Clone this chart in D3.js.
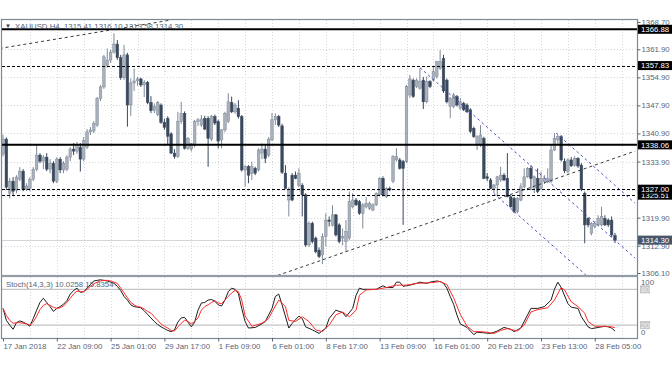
<!DOCTYPE html>
<html>
<head>
<meta charset="utf-8">
<script src="https://cdn.jsdelivr.net/npm/d3@7"></script>
<style>
    body { margin: 0; background: #fff; }
    svg { display: block; font-family: "Liberation Sans", Arial, sans-serif; }
</style>
</head>
<body>
<svg id="chart" width="672" height="372"></svg>
<script>
// H4 candles
const opens = [
    1335.8,1339.5,1326.0,1329.0,1326.8,1329.5,1331.5,1327.0,1327.2,1329.5,
    1332.0,1335.5,1334.0,1335.0,1332.0,1333.5,1329.0,1334.5,1331.8,1332.0,
    1335.0,1337.0,1336.5,1337.5,1334.5,1337.5,1341.3,1341.5,1343.0,1349.6,
    1352.5,1357.8,1359.2,1361.2,1363.2,1359.8,1354.8,1360.5,1348.0,1353.5,
    1354.0,1354.5,1353.0,1353.6,1348.6,1346.6,1345.6,1348.0,1343.7,1344.6,
    1340.8,1336.0,1335.2,1343.9,1345.9,1337.2,1337.0,1338.0,1343.9,1343.0,
    1344.6,1344.7,1339.5,1345.1,1343.9,1339.3,1341.8,1343.9,1348.6,1346.3,
    1347.2,1345.1,1331.8,1332.6,1330.9,1332.2,1331.8,1336.0,1337.0,1335.5,
    1339.3,1344.3,1345.1,1342.8,1331.0,1324.3,1330.5,1330.5,1328.0,1328.0,
    1325.6,1313.1,1318.5,1314.8,1311.8,1310.6,1315.2,1319.3,1318.0,1320.6,
    1318.1,1314.8,1313.9,1314.8,1322.6,1324.3,1323.9,1321.0,1322.6,1322.2,
    1321.8,1323.1,1325.6,1329.7,1325.1,1327.2,1328.9,1334.3,1334.3,1333.9,
    1333.9,1350.5,1354.2,1352.6,1352.2,1354.2,1348.8,1353.8,1354.2,1355.1,
    1357.1,1359.6,1354.2,1347.6,1347.6,1350.1,1347.2,1348.4,1348.0,1346.8,
    1342.2,1338.0,1338.0,1339.7,1330.1,1329.3,1327.2,1328.05,1329.3,1330.5,
    1329.7,1325.1,1324.7,1321.4,1324.3,1327.6,1330.1,1332.2,1327.2,1329.7,
    1327.2,1328.9,1328.9,1329.0,1336.8,1339.3,1340.1,1333.9,1331.4,1334.3,
    1333.0,1334.7,1333.0,1326.0,1319.7,1316.0,1317.7,1318.1,1318.1,1319.7,
    1319.3,1319.3,1315.41
];
const highs = [
    1340.6,1339.9,1329.8,1330.0,1330.5,1332.5,1332.0,1328.5,1330.0,1332.5,
    1338.0,1336.0,1335.5,1336.0,1334.5,1334.0,1335.0,1335.0,1334.0,1335.5,
    1337.5,1338.5,1338.8,1338.5,1340.0,1342.0,1342.5,1344.0,1350.0,1353.0,
    1360.5,1362.1,1361.8,1365.9,1364.2,1360.5,1363.0,1361.0,1354.6,1357.1,
    1355.0,1354.8,1354.2,1354.0,1350.2,1348.4,1349.0,1348.4,1344.6,1345.2,
    1341.2,1337.0,1346.3,1348.8,1346.4,1340.0,1338.6,1344.3,1344.7,1345.5,
    1345.3,1345.2,1345.5,1345.6,1344.3,1342.0,1346.3,1350.9,1350.1,1348.5,
    1349.2,1345.5,1333.0,1333.0,1333.9,1332.6,1337.2,1338.4,1338.0,1340.0,
    1346.0,1345.9,1345.5,1343.3,1333.0,1327.5,1331.0,1331.4,1332.2,1328.5,
    1326.0,1319.0,1318.9,1315.2,1312.5,1316.0,1321.0,1320.2,1323.0,1320.8,
    1318.5,1317.2,1319.3,1326.4,1326.0,1324.8,1324.3,1323.5,1325.1,1323.9,
    1323.5,1326.2,1330.0,1330.2,1327.5,1327.6,1335.5,1337.2,1334.8,1334.3,
    1353.0,1355.5,1354.6,1354.6,1357.1,1355.0,1355.1,1354.2,1357.6,1359.0,
    1361.7,1360.5,1354.6,1350.0,1351.0,1350.5,1349.7,1348.8,1348.4,1347.2,
    1342.6,1340.5,1343.0,1340.1,1331.0,1329.8,1328.3,1330.3,1332.6,1331.0,
    1336.0,1325.5,1325.1,1325.0,1328.5,1332.2,1332.5,1333.0,1330.4,1332.2,
    1331.4,1330.5,1332.2,1338.0,1341.0,1340.5,1340.5,1334.7,1334.7,1335.0,
    1335.2,1335.0,1333.5,1326.4,1320.0,1318.8,1319.0,1320.5,1322.6,1320.5,
    1319.7,1320.2,1316.10
];
const lows = [
    1335.2,1326.8,1324.7,1325.5,1326.0,1329.0,1326.5,1326.5,1326.5,1329.0,
    1331.5,1333.5,1332.0,1331.5,1331.0,1328.5,1328.5,1331.0,1331.0,1331.5,
    1334.0,1335.5,1335.8,1331.4,1334.0,1337.0,1340.5,1341.0,1342.5,1349.0,
    1352.0,1357.3,1358.5,1360.8,1359.3,1354.3,1354.3,1342.6,1345.3,1351.5,
    1352.8,1352.5,1350.0,1348.2,1346.0,1346.0,1345.2,1343.3,1341.8,1338.0,
    1335.8,1334.6,1334.8,1343.3,1336.9,1336.8,1336.4,1337.4,1342.8,1342.5,
    1341.7,1332.6,1339.0,1343.0,1337.2,1337.2,1341.2,1343.5,1346.0,1345.8,
    1344.6,1331.4,1327.6,1328.5,1329.3,1330.5,1331.4,1334.5,1333.5,1335.0,
    1339.0,1343.0,1342.5,1330.8,1327.0,1320.2,1324.0,1329.5,1327.5,1320.2,
    1312.6,1312.6,1313.5,1311.0,1309.8,1308.3,1312.7,1317.7,1317.7,1315.2,
    1313.5,1313.0,1311.4,1314.3,1322.2,1322.8,1320.6,1317.2,1322.2,1321.8,
    1321.5,1322.8,1325.2,1325.2,1324.8,1326.5,1328.5,1333.9,1331.9,1318.1,
    1333.5,1349.8,1349.8,1352.2,1351.8,1347.0,1348.4,1352.2,1353.8,1354.6,
    1356.8,1351.0,1348.4,1344.7,1347.2,1347.6,1346.8,1346.5,1346.0,1341.0,
    1339.8,1336.8,1337.5,1329.5,1329.0,1327.0,1326.0,1325.1,1328.8,1329.0,
    1325.0,1322.4,1321.0,1321.0,1324.0,1327.2,1329.8,1326.8,1326.0,1326.0,
    1326.8,1328.3,1328.5,1328.5,1336.5,1338.0,1333.9,1331.0,1331.0,1332.6,
    1332.6,1332.3,1326.5,1313.5,1317.5,1315.5,1317.2,1317.8,1317.7,1317.8,
    1317.6,1315.0,1313.58
];
const closes = [
    1339.5,1327.5,1329.0,1326.5,1330.0,1331.5,1327.0,1327.8,1329.5,1332.0,
    1335.5,1334.0,1335.0,1332.0,1333.5,1329.0,1334.5,1331.8,1333.5,1335.0,
    1337.0,1336.5,1338.0,1334.5,1339.2,1341.3,1341.8,1343.4,1349.6,1352.5,
    1360.0,1359.2,1361.2,1363.2,1359.8,1354.8,1360.5,1348.0,1353.5,1354.0,
    1354.5,1353.0,1353.6,1348.6,1346.6,1347.6,1348.6,1343.7,1342.4,1340.2,
    1336.0,1335.2,1343.9,1345.9,1337.2,1339.7,1338.4,1343.9,1344.3,1344.5,
    1342.0,1339.7,1345.1,1343.5,1339.0,1341.8,1345.9,1348.8,1346.3,1348.0,
    1345.1,1331.8,1332.6,1330.5,1332.6,1331.0,1336.8,1337.0,1334.7,1339.5,
    1344.3,1345.1,1343.0,1331.2,1327.2,1327.0,1324.3,1329.7,1331.0,1325.6,
    1313.1,1318.5,1313.9,1311.4,1310.2,1315.2,1319.3,1319.0,1320.6,1315.6,
    1313.9,1315.2,1316.4,1323.9,1324.3,1323.1,1321.0,1323.1,1323.5,1323.5,
    1323.1,1326.0,1329.7,1325.6,1327.2,1326.8,1335.1,1335.1,1332.2,1332.2,
    1352.6,1354.5,1350.1,1354.2,1353.8,1348.8,1353.8,1352.6,1356.3,1358.8,
    1358.8,1351.5,1348.8,1349.7,1350.5,1348.0,1348.8,1346.8,1346.3,1341.4,
    1340.1,1340.1,1340.5,1329.7,1329.7,1327.2,1328.05,1330.1,1330.5,1329.3,
    1325.1,1322.6,1321.4,1324.7,1327.6,1330.1,1332.2,1329.7,1330.1,1326.4,
    1329.7,1329.7,1329.7,1336.8,1339.7,1340.1,1334.3,1331.6,1334.3,1332.8,
    1334.7,1332.8,1327.0,1318.1,1318.1,1318.5,1318.5,1319.7,1320.2,1318.1,
    1318.1,1315.6,1314.30
];

// stochastic points [bar, value]
const stochMain = [
    [0,48],[1,28],[2,20],[3,13],[4,24],[5,27],[6,25],[7,22],[8,18],[9,31],[10,45],[11,58],[12,65],[13,58],
    [14,51],[15,43],[16,48],[17,51],[18,55],[19,61],[20,72],[21,78],[22,82],[23,75],[24,76],[25,82],[26,88],
    [27,94],[28,95],[29,96],[30,95],[31,94],[32,92],[33,90],[34,85],[35,78],[36,68],[37,62],[38,54],[39,51],
    [40,50],[41,49],[42,44],[43,38],[44,32],[45,26],[46,21],[47,17],[48,14],[49,11],[50,9],[51,12],[52,25],
    [53,32],[54,33],[55,25],[56,17],[57,25],[58,45],[59,57],[60,58],[61,62],[62,63],[63,60],[64,54],[65,52],
    [66,62],[67,76],[68,82],[69,80],[70,73],[71,48],[72,26],[73,15],[75,16],[77,22],[78,26],[80,48],[81,68],
    [82,72],[83,54],[85,15],[86,23],[88,35],[89,31],[90,17],[92,12],[94,6],[96,15],[97,31],[99,45],[101,41],
    [102,34],[104,48],[105,70],[106,82],[107,80],[109,80],[111,80],[113,86],[114,83],[116,83],[117,92],[118,92],
    [119,85],[121,87],[123,90],[124,92],[126,90],[127,92],[129,94],[130,93],[131,90],[132,82],[133,68],[134,55],
    [135,37],[136,22],[138,16],[140,4],[141,8],[143,7],[145,6],[147,10],[149,16],[151,13],[152,9],[154,15],
    [156,37],[157,48],[159,48],[161,51],[163,62],[164,80],[165,92],[166,83],[168,56],[169,50],[171,48],[172,34],
    [174,17],[175,14],[177,16],[179,18],[180,17],[181,15],[182,10.03]
];
const stochSignal = [
    [0,48],[1,36],[2,28],[3,23],[4,24],[5,24],[6,23],[7,22],[8,20],[9,25],[10,35],[11,46],[12,53],[13,56],
    [14,53],[15,50],[16,48],[17,49],[18,52],[19,58],[20,65],[21,72],[22,77],[23,76],[24,76],[25,80],[26,85],
    [27,89],[28,92],[29,94],[30,95],[31,95],[32,94],[33,92],[34,90],[35,82],[36,74],[37,66],[38,58],[39,54],
    [40,51],[41,50],[42,47],[43,43],[44,40],[45,34],[46,28],[47,22],[48,18],[49,15],[50,11],[51,10],[52,17],
    [53,23],[54,28],[55,26],[56,22],[57,26],[58,32],[59,45],[60,51],[61,54],[62,58],[63,61],[64,57],[65,56],
    [66,62],[67,68],[68,74],[69,78],[70,76],[71,62],[72,35],[74,18],[77,23],[79,31],[80,42],[82,62],[84,51],
    [85,28],[87,26],[89,34],[91,26],[93,12],[95,9],[97,20],[99,37],[101,42],[103,34],[105,45],[106,70],[108,79],
    [111,80],[114,83],[117,87],[120,87],[123,90],[127,91],[130,93],[132,88],[134,66],[136,38],[138,18],[140,9],
    [142,9],[144,8],[146,6],[148,11],[150,14],[153,10],[155,20],[157,42],[159,46],[162,49],[164,62],[166,83],
    [167,79],[169,59],[171,51],[173,40],[174,26],[176,18],[179,18],[181,17],[182,15.84]
];

const timeLabels = ["17 Jan 2018", "22 Jan 09:00", "25 Jan 01:00", "29 Jan 17:00", "1 Feb 09:00", "6 Feb 01:00",
    "8 Feb 17:00", "13 Feb 09:00", "16 Feb 01:00", "20 Feb 21:00", "23 Feb 13:00", "28 Feb 05:00"];
const timeTickBars = [0, 16, 32, 48, 64, 80, 96, 112, 128, 144, 160, 176];
const priceTicks = [1368.70, 1361.90, 1354.90, 1347.90, 1340.90, 1333.90, 1326.90, 1319.90, 1312.90, 1306.10];

const levelsSolid = [1366.88, 1338.06];
const levelsDashed = [1325.51, 1327.00, 1357.83];
const lastPrice = 1314.30;

// trend lines [[bar, price], [bar, price]]
const trendBlack = [
    [[-1, 1362.1], [50, 1369.2]],
    [[80, 1305.0], [188, 1336.5]]
];
const trendBlue = [
    [[124, 1357.3], [188, 1309.8]],
    [[164.5, 1341.0], [188, 1323.5]],
    [[146, 1325.9], [188, 1294.7]]
];

const header = "XAUUSD,H4  1315.41 1316.10 1313.58 1314.30";
const stochHeader = "Stoch(14,3,3) 10.0258 15.8354";

// ---- layout
const frame = { left: 2, right: 637, top: 20, bottom: 275 };
const sub = { top: 277, bottom: 338 };
const textColor = "#56657a";
const fs = "7.8px";

const svg = d3.select("#chart");

const x = d3.scaleLinear().domain([0, 182]).range([3, 3 + 182 * 3.3625]);
const y = d3.scaleLinear().domain([1306.1, 1368.7]).range([273, 22]);
const ys = d3.scaleLinear().domain([0, 100]).range([337, 277.4]);

const defs = svg.append("defs");
defs.append("clipPath").attr("id", "clipMain")
    .append("rect")
    .attr("x", frame.left).attr("y", frame.top)
    .attr("width", frame.right - frame.left).attr("height", frame.bottom - frame.top);
defs.append("clipPath").attr("id", "clipSub")
    .append("rect")
    .attr("x", frame.left).attr("y", sub.top)
    .attr("width", frame.right - frame.left).attr("height", sub.bottom - sub.top);

const bars = opens.map((o, i) => ({ i, o, h: highs[i], l: lows[i], c: closes[i] }));

// grid
const gridBars = d3.range(8, 189, 8);
const grid = svg.append("g").attr("stroke", "#d4d7db").attr("stroke-dasharray", "1,2");
grid.selectAll("line.v").data(gridBars).join("line")
    .attr("x1", d => Math.round(x(d)) + 0.5).attr("x2", d => Math.round(x(d)) + 0.5)
    .attr("y1", frame.top).attr("y2", frame.bottom);
grid.selectAll("line.vs").data(gridBars).join("line")
    .attr("x1", d => Math.round(x(d)) + 0.5).attr("x2", d => Math.round(x(d)) + 0.5)
    .attr("y1", sub.top).attr("y2", sub.bottom);
grid.selectAll("line.h").data(priceTicks.slice(1, -1)).join("line")
    .attr("x1", frame.left).attr("x2", frame.right)
    .attr("y1", d => Math.round(y(d)) + 0.5).attr("y2", d => Math.round(y(d)) + 0.5);

// main pane
const main = svg.append("g").attr("clip-path", "url(#clipMain)");

main.append("line")
    .attr("x1", frame.left).attr("x2", frame.right)
    .attr("y1", Math.round(y(lastPrice)) + 0.5).attr("y2", Math.round(y(lastPrice)) + 0.5)
    .attr("stroke", "#d3d7dc");

const bullFill = "#a9b1bc", bullEdge = "#7f8996", bearFill = "#3a495d";

main.selectAll("line.wick").data(bars).join("line")
    .attr("class", "wick")
    .attr("x1", d => x(d.i)).attr("x2", d => x(d.i))
    .attr("y1", d => y(d.h)).attr("y2", d => y(d.l))
    .attr("stroke", d => d.c >= d.o ? bullEdge : bearFill)
    .attr("stroke-width", 1);

main.selectAll("rect.body").data(bars).join("rect")
    .attr("class", "body")
    .attr("x", d => x(d.i) - 1.3)
    .attr("width", 2.6)
    .attr("y", d => y(Math.max(d.o, d.c)))
    .attr("height", d => Math.max(0.8, Math.abs(y(d.o) - y(d.c))))
    .attr("fill", d => d.c >= d.o ? bullFill : bearFill)
    .attr("stroke", d => d.c >= d.o ? bullEdge : bearFill)
    .attr("stroke-width", 0.5);

// trend lines
main.selectAll("line.tb").data(trendBlack).join("line")
    .attr("x1", d => x(d[0][0])).attr("y1", d => y(d[0][1]))
    .attr("x2", d => x(d[1][0])).attr("y2", d => y(d[1][1]))
    .attr("stroke", "#3a3a3a").attr("stroke-width", 1).attr("stroke-dasharray", "3,3");

main.selectAll("line.tbl").data(trendBlue).join("line")
    .attr("x1", d => x(d[0][0])).attr("y1", d => y(d[0][1]))
    .attr("x2", d => x(d[1][0])).attr("y2", d => y(d[1][1]))
    .attr("stroke", "#4a4ac6").attr("stroke-width", 1).attr("stroke-dasharray", "2.5,3");

// horizontal levels
main.selectAll("line.ls").data(levelsSolid).join("line")
    .attr("x1", frame.left).attr("x2", frame.right)
    .attr("y1", d => y(d)).attr("y2", d => y(d))
    .attr("stroke", "#000").attr("stroke-width", 2);
main.selectAll("line.ld").data(levelsDashed).join("line")
    .attr("x1", frame.left).attr("x2", frame.right)
    .attr("y1", d => Math.round(y(d)) + 0.5).attr("y2", d => Math.round(y(d)) + 0.5)
    .attr("stroke", "#000").attr("stroke-width", 1).attr("stroke-dasharray", "3,2");

// stochastic pane
const stoch = svg.append("g").attr("clip-path", "url(#clipSub)");
stoch.selectAll("line.lvl").data([80, 20]).join("line")
    .attr("x1", frame.left).attr("x2", frame.right)
    .attr("y1", d => ys(d)).attr("y2", d => ys(d))
    .attr("stroke", "#c4c4c4").attr("stroke-width", 1.2);

const line = d3.line().x(d => x(d[0])).y(d => ys(d[1]));
stoch.append("path").datum(stochMain).attr("d", line)
    .attr("fill", "none").attr("stroke", "#1e1e1e").attr("stroke-width", 1);
stoch.append("path").datum(stochSignal).attr("d", line)
    .attr("fill", "none").attr("stroke", "#ff2b2b").attr("stroke-width", 1);

// frames
svg.append("rect")
    .attr("x", frame.left - 0.5).attr("y", frame.top - 0.5)
    .attr("width", frame.right - frame.left + 1).attr("height", frame.bottom - frame.top + 1)
    .attr("fill", "none").attr("stroke", "#7d8894").attr("stroke-width", 1.2);
svg.append("rect")
    .attr("x", frame.left - 0.5).attr("y", sub.top - 0.5)
    .attr("width", frame.right - frame.left + 1).attr("height", sub.bottom - sub.top + 1)
    .attr("fill", "none").attr("stroke", "#7d8894").attr("stroke-width", 1.2);
svg.append("rect")
    .attr("x", frame.left - 0.5).attr("y", frame.bottom + 0.5)
    .attr("width", frame.right - frame.left + 1).attr("height", sub.top - frame.bottom - 1)
    .attr("fill", "#a9b1ba");

// price axis
const yAxis = svg.append("g")
    .attr("transform", `translate(${frame.right + 0.5},0)`)
    .call(d3.axisRight(y).tickValues(priceTicks).tickFormat(d3.format(".2f")).tickSize(3).tickPadding(1));
yAxis.select(".domain").remove();
yAxis.selectAll("line").attr("stroke", textColor);
yAxis.selectAll("text").attr("fill", textColor).style("font-size", fs);

// price boxes
const boxes = [
    { v: 1366.88, bg: "#000" }, { v: 1357.83, bg: "#000" }, { v: 1338.06, bg: "#000" },
    { v: 1325.51, bg: "#000" }, { v: 1327.00, bg: "#000" }, { v: lastPrice, bg: "#4a5669" }
];
const bx = svg.selectAll("g.box").data(boxes).join("g")
    .attr("transform", d => `translate(${frame.right + 1},${y(d.v)})`);
bx.append("rect").attr("x", 0).attr("y", -4.5).attr("width", 36).attr("height", 9).attr("fill", d => d.bg);
bx.append("text").attr("x", 3).attr("dy", "0.34em").attr("fill", "#fff").style("font-size", fs)
    .text(d => d3.format(".2f")(d.v));

// stochastic axis labels
const sAxis = svg.append("g").style("font-size", fs);
sAxis.append("text").attr("x", 641).attr("y", ys(100) + 5).attr("dy", "0.34em").attr("fill", textColor).text("100");
sAxis.append("text").attr("x", 641).attr("y", ys(0) - 4.5).attr("dy", "0.34em").attr("fill", textColor).text("0");
const sBox = sAxis.selectAll("g.lv").data([80, 20]).join("g")
    .attr("transform", d => `translate(640,${ys(d)})`);
sBox.append("rect").attr("x", 0).attr("y", -4).attr("width", 10).attr("height", 8).attr("fill", "#c6c6c6");
sBox.append("text").attr("x", 1).attr("dy", "0.34em").attr("fill", "#f2f2f2").text(d => d);

// time axis
const xAxis = svg.append("g")
    .attr("transform", `translate(0,${sub.bottom + 0.5})`)
    .call(d3.axisBottom(x).tickValues(timeTickBars).tickFormat((d, i) => timeLabels[i]).tickSize(3).tickPadding(2));
xAxis.select(".domain").remove();
xAxis.selectAll("line").attr("stroke", textColor);
xAxis.selectAll("text").attr("fill", textColor).attr("text-anchor", "start").attr("x", 0).style("font-size", fs);

// headers
svg.append("text").attr("x", 5).attr("y", 28).attr("fill", "#2e3a4a").style("font-size", "6px").text("▼");
svg.append("text").attr("x", 15).attr("y", 28.5).attr("fill", textColor).style("font-size", fs)
    .attr("xml:space", "preserve").text(header);
svg.append("text").attr("x", 6).attr("y", 287).attr("fill", textColor).style("font-size", fs).text(stochHeader);
</script>
</body>
</html>
